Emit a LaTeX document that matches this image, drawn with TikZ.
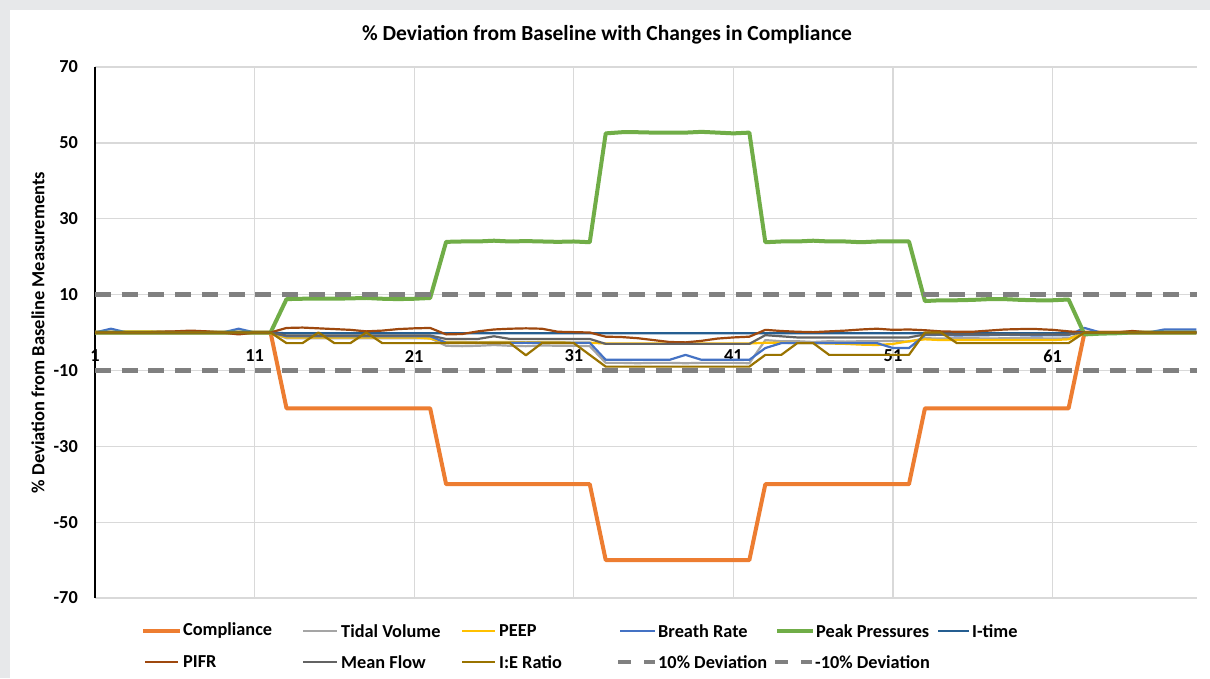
\documentclass[tikz,border=0pt]{standalone}
\usepackage{fontspec}
\setmainfont{Carlito}
\usetikzlibrary{calc}
\definecolor{bordergrey}{HTML}{E7E8EA}
\definecolor{gridgrey}{HTML}{D9D9D9}
\definecolor{cComp}{HTML}{ED7D31}
\definecolor{cTidal}{HTML}{A5A5A5}
\definecolor{cPeep}{HTML}{FFC000}
\definecolor{cBreath}{HTML}{4472C4}
\definecolor{cPeak}{HTML}{70AD47}
\definecolor{cItime}{HTML}{255E91}
\definecolor{cPifr}{HTML}{9E480E}
\definecolor{cMean}{HTML}{636363}
\definecolor{cIE}{HTML}{997300}
\definecolor{cDev}{HTML}{808080}
\tikzset{
  thickser/.style={line width=4pt, line join=round},
  thinser/.style={line width=2.2pt, line join=round},
  devser/.style={line width=4.5pt, cDev, dash pattern=on 16pt off 10.7pt},
  gridline/.style={gridgrey, line width=1.3pt},
  ticklab/.style={font=\fontsize{18.3}{20}\selectfont\bfseries, inner sep=0pt},
  leglab/.style={font=\fontsize{18.3}{20}\selectfont\bfseries, inner sep=0pt, anchor=west},
}
\newcommand\drawseries[2]{\draw[#1] (1,0) \foreach \v [count=\i] in {#2} { -- (\i,\v) };}
\begin{document}
\begin{tikzpicture}[x=1pt,y=-1pt]
\useasboundingbox (0,0) rectangle (1210,678);
\fill[bordergrey] (0,0) rectangle (1210,678);
\fill[white] (10,10) rectangle (1210,678);
% title
\node[font=\fontsize{21.5}{24}\selectfont\bfseries, inner sep=0pt] (title) at (607,35) {\% Deviation from Baseline with Changes in Compliance};
% horizontal gridlines and y labels
\foreach \v [count=\k] in {70,50,30,10,-10,-30,-50,-70} {
  \draw[gridline] (95,{332.5-\v*3.793}) -- (1197,{332.5-\v*3.793});
  \node[ticklab, anchor=east] (ylab\k) at (78,{332.5-\v*3.793}) {\v};
}
% vertical gridlines
\foreach \c in {11,21,31,41,51,61} {
  \draw[gridline] ({95+(\c-1)*15.96},67) -- ({95+(\c-1)*15.96},598);
}
% category labels
\foreach \c in {1,11,21,31,41,51,61} {
  \node[ticklab] (xlab\c) at ({95+(\c-1)*15.96},356) {\c};
}
% axis title
\node[font=\fontsize{18.5}{20}\selectfont\bfseries, inner sep=0pt, rotate=90] (ytitle) at (38,332.5) {\% Deviation from Baseline Measurements};
% axes
\draw[black, line width=1pt] (95,332.5) -- (1197,332.5);
\draw[black, line width=2.5pt] (95,67) -- (95,598);
% data
\begin{scope}[shift={(79.04,332.5)}, x=15.96pt, y=3.793pt]
\drawseries{thickser, cComp}{0,0,0,0,0,0,0,0,0,0,0,0,-20,-20,-20,-20,-20,-20,-20,-20,-20,-20,-40,-40,-40,-40,-40,-40,-40,-40,-40,-40,-60,-60,-60,-60,-60,-60,-60,-60,-60,-60,-40,-40,-40,-40,-40,-40,-40,-40,-40,-40,-20,-20,-20,-20,-20,-20,-20,-20,-20,-20,0,0,0,0,0,0,0,0}
\drawseries{thinser, cTidal}{0,0,0,0,0,0,0,0,0,0,0,0,-1.5,-1.5,-1.5,-1.5,-1.5,-1.5,-1.5,-1.5,-1.5,-1.5,-3.5,-3.6,-3.5,-3.3,-3.5,-3.6,-3.4,-3.5,-3.5,-3.6,-8.0,-8.0,-8.1,-8.0,-8.0,-8.1,-8.0,-8.0,-8.0,-8.1,-2.0,-2.3,-2.3,-2.5,-2.3,-2.4,-2.3,-2.3,-2.2,-2.4,-1.5,-1.6,-1.5,-1.5,-1.6,-1.5,-1.5,-1.5,-1.6,-1.5,0,0,0,0,0,0,0,0}
\drawseries{thinser, cPeep}{0,0,0.3,0.3,0.2,0,0,0,0,0,0,-0.2,-1.3,-1.3,-1.3,-1.3,-1.3,-1.3,-1.3,-1.3,-1.3,-1.6,-2.5,-2.5,-2.6,-2.5,-2.5,-2.6,-2.5,-2.5,-2.7,-2.7,-2.9,-2.9,-2.9,-2.9,-2.9,-2.9,-2.9,-2.9,-2.9,-2.9,-2.7,-2.7,-2.8,-2.8,-2.9,-3.0,-3.2,-3.3,-3.0,-2.3,-1.8,-2.0,-2.0,-2.0,-2.0,-2.0,-2.0,-2.0,-2.0,-1.8,0,0,0,0,0,0,0,0}
\drawseries{thinser, cBreath}{0,1.0,0,0,0,0,0,0,0,1.0,0,0,-1.0,-1.0,-1.0,-1.0,-1.0,-1.0,-1.0,-1.0,-1.0,-1.0,-2.7,-2.7,-2.7,-2.7,-2.7,-2.7,-2.7,-2.7,-2.7,-2.7,-7.2,-7.2,-7.2,-7.2,-7.2,-5.9,-7.2,-7.2,-7.2,-7.2,-4.1,-2.8,-2.8,-2.8,-2.8,-2.8,-2.8,-2.8,-4.1,-4.1,-0.7,-0.6,-0.8,-0.7,-0.7,-0.6,-0.7,-0.8,-0.7,-0.7,1.2,0,0,0,0,0.8,0.8,0.8}
\drawseries{thickser, cPeak}{0,0,0,0,0,0,0,0,0,0,0,0,8.8,8.9,8.9,8.9,9.0,9.1,8.9,8.8,8.9,9.1,23.9,24.0,24.0,24.2,24.0,24.1,24.0,23.9,24.0,23.8,52.5,52.8,52.8,52.7,52.7,52.7,52.9,52.7,52.5,52.7,23.8,24.0,24.0,24.2,24.0,24.0,23.8,24.0,24.0,24.0,8.3,8.5,8.5,8.6,8.8,8.8,8.6,8.5,8.5,8.7,-0.5,-0.3,-0.2,0,0,0,0,0}
\drawseries{thinser, cItime}{0,0,0,0,0,0,0,0,0,0,0,0,-0.2,-0.2,-0.2,-0.2,-0.2,-0.2,-0.2,-0.2,-0.2,-0.2,-0.2,-0.2,-0.2,-0.2,-0.2,-0.2,-0.2,-0.2,-0.2,-0.2,-0.2,-0.2,-0.2,-0.2,-0.2,-0.2,-0.2,-0.2,-0.2,-0.2,-0.2,-0.2,-0.2,-0.2,-0.2,-0.2,-0.2,-0.2,-0.2,-0.2,-0.2,-0.2,-0.2,-0.2,-0.2,-0.2,-0.2,-0.2,-0.2,-0.2,0,0,0,0,0,0,0,0}
\drawseries{thinser, cPifr}{0,0,0,0,0.2,0.3,0.5,0.3,0,-0.5,0,0,1.2,1.3,1.1,0.9,0.7,0.3,0.5,0.9,1.1,1.2,-0.5,-0.4,0.3,0.8,1.0,1.1,1.0,0.2,0.1,0.0,-1.1,-1.2,-1.5,-2.0,-2.5,-2.6,-2.2,-1.6,-1.3,-1.1,0.7,0.4,0.2,0.1,0.3,0.5,0.8,1.0,0.7,0.8,0.6,0.3,0.2,0.2,0.5,0.8,0.9,0.9,0.7,0.3,0,0,0,0.4,0,0,0,0}
\drawseries{thinser, cMean}{0,0,0,0,0,0,0,0,0,0,0,0,-0.8,-0.8,-0.8,-0.8,-0.8,-0.8,-0.8,-0.8,-0.8,-0.8,-1.7,-1.7,-1.7,-1.0,-1.7,-1.7,-1.7,-1.7,-1.7,-1.7,-3.0,-3.0,-3.0,-3.0,-3.0,-3.0,-3.0,-3.0,-3.0,-3.0,-0.7,-1.0,-1.3,-1.3,-1.3,-1.3,-1.3,-1.3,-1.3,-1.3,-0.5,-0.5,-0.5,-0.5,-0.5,-0.5,-0.5,-0.5,-0.5,-0.5,0,0,0,0,0,0,0,0}
\drawseries{thinser, cIE}{0,0,0,0,0,0,0,0,0,0,0,0,-2.8,-2.8,0,-2.8,-2.8,0,-2.8,-2.8,-2.8,-2.8,-2.8,-2.8,-2.8,-2.8,-2.8,-6.0,-2.8,-2.8,-2.8,-5.9,-9.0,-9.0,-9.0,-9.0,-9.0,-9.0,-9.0,-9.0,-9.0,-9.0,-5.9,-5.9,-2.8,-2.8,-5.9,-5.9,-5.9,-5.9,-5.9,-5.9,0,0,-2.8,-2.8,-2.8,-2.8,-2.8,-2.8,-2.8,-2.8,0,0,0,0,0,0,0,0}
\coordinate (d10a) at (1,10);
\coordinate (d10b) at (70.05,10);
\coordinate (dm10a) at (1,-10);
\coordinate (dm10b) at (70.05,-10);
\end{scope}
\draw[devser] (d10a) -- (d10b);
\draw[devser] (dm10a) -- (dm10b);
% legend
\coordinate (l1a) at (143,631); \coordinate (l1b) at (180,631);
\coordinate (l2a) at (303,631); \coordinate (l2b) at (337,631);
\coordinate (l3a) at (462,631); \coordinate (l3b) at (495,631);
\coordinate (l4a) at (620,631); \coordinate (l4b) at (655,631);
\coordinate (l5a) at (777,631); \coordinate (l5b) at (813,631);
\coordinate (l6a) at (938,631); \coordinate (l6b) at (969,631);
\coordinate (m1a) at (145,662); \coordinate (m1b) at (178,662);
\coordinate (m2a) at (303,662); \coordinate (m2b) at (337,662);
\coordinate (m3a) at (462,662); \coordinate (m3b) at (495,662);
\coordinate (m4a) at (618,662); \coordinate (m4b) at (655,662);
\coordinate (m5a) at (775,662); \coordinate (m5b) at (812,662);
\draw[thickser, cComp] (l1a) -- (l1b);
\draw[thinser, cTidal] (l2a) -- (l2b);
\draw[thinser, cPeep] (l3a) -- (l3b);
\draw[thinser, cBreath] (l4a) -- (l4b);
\draw[thickser, cPeak] (l5a) -- (l5b);
\draw[thinser, cItime] (l6a) -- (l6b);
\draw[thinser, cPifr] (m1a) -- (m1b);
\draw[thinser, cMean] (m2a) -- (m2b);
\draw[thinser, cIE] (m3a) -- (m3b);
\draw[line width=4.5pt, cDev, dash pattern=on 13pt off 13pt] (m4a) -- (m4b);
\draw[line width=4.5pt, cDev, dash pattern=on 13pt off 13pt] (m5a) -- (m5b);
\node[leglab] (t1) at ($(l1b)+(3,0)$) {Compliance};
\node[leglab] (t2) at ($(l2b)+(4,0)$) {Tidal Volume};
\node[leglab] (t3) at ($(l3b)+(4,0)$) {PEEP};
\node[leglab] (t4) at ($(l4b)+(3,0)$) {Breath Rate};
\node[leglab] (t5) at ($(l5b)+(3,0)$) {Peak Pressures};
\node[leglab] (t6) at ($(l6b)+(3,0)$) {I-time};
\node[leglab] (t7) at ($(m1b)+(5,0)$) {PIFR};
\node[leglab] (t8) at ($(m2b)+(4,0)$) {Mean Flow};
\node[leglab] (t9) at ($(m3b)+(4,0)$) {I:E Ratio};
\node[leglab] (t10) at ($(m4b)+(3,0)$) {10\% Deviation};
\node[leglab] (t11) at ($(m5b)+(3,0)$) {-10\% Deviation};
\end{tikzpicture}
\end{document}
